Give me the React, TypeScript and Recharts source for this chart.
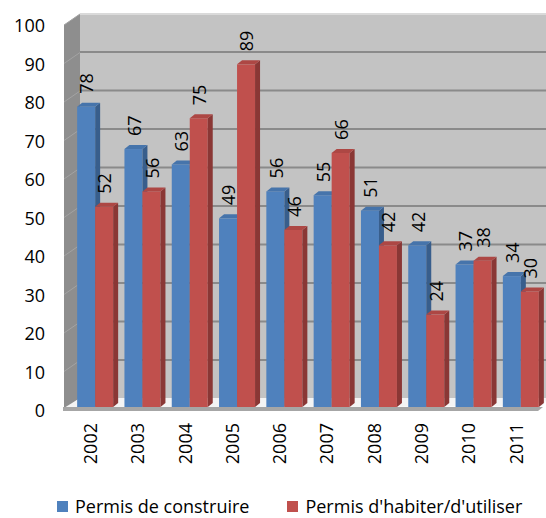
import { BarChart, Bar, XAxis, YAxis, ReferenceArea, Legend, LabelList } from 'recharts'

const years = ['2002', '2003', '2004', '2005', '2006', '2007', '2008', '2009', '2010', '2011']
const construire = [78, 67, 63, 49, 56, 55, 51, 42, 37, 34]
const habiter = [52, 56, 75, 89, 46, 66, 42, 24, 38, 30]
const yTicks = [0, 10, 20, 30, 40, 50, 60, 70, 80, 90, 100]

const data = years.map((year, i) => ({ year, construire: construire[i], habiter: habiter[i] }))

const COLORS = {
  construire: { front: '#4f81bd', side: '#385e8c', top: '#4674ab' },
  habiter: { front: '#c0504d', side: '#8a3735', top: '#ad4744' },
}

const FONT = '"Open Sans", sans-serif'

function Bar3D({ x, y, width, height, c }: any) {
  if (!height || height <= 0) return null
  const d = 5
  const up = 4
  return (
    <g>
      <rect x={x} y={y} width={width} height={height} fill={c.front} />
      <polygon points={`${x + width},${y} ${x + width + d},${y - up} ${x + width + d},${y + height - up} ${x + width},${y + height}`} fill={c.side} />
      <polygon points={`${x},${y} ${x + d},${y - up} ${x + width + d},${y - up} ${x + width},${y}`} fill={c.top} />
    </g>
  )
}

// back wall, side wall and floor drawn around the plot area
function Walls({ x, y, width, height }: any) {
  const bx = x + 9
  const by = y - 8
  const bb = y + height - 9
  const br = x + width + 4
  const lx = x - 7
  const fb = y + height
  return (
    <g>
      <rect x={bx} y={by} width={br - bx} height={bb - by} fill="#c3c3c3" />
      <line x1={bx} y1={by} x2={br} y2={by} stroke="#dadada" strokeWidth={2} />
      <polygon points={`${lx},${by + 11} ${bx},${by} ${bx},${bb} ${lx},${fb + 3}`} fill="#8e8e8e" />
      {yTicks.map((t) => {
        const gy = y + height * (1 - t / 100)
        return (
          <g key={t}>
            <line x1={lx} y1={gy + 3} x2={bx} y2={gy - 8} stroke="#a3a3a3" strokeWidth={1} />
            {t > 0 && t < 100 && <line x1={bx} y1={gy - 8.5} x2={br} y2={gy - 8.5} stroke="#8a8a8a" strokeWidth={2} />}
          </g>
        )
      })}
      <polygon points={`${lx},${fb + 1} ${bx},${bb} ${br},${bb} ${br - 6},${fb - 1}`} fill="#f4f4f4" />
      <polygon points={`${lx - 1},${fb} ${br - 5},${fb} ${br - 10},${fb + 4} ${lx - 1},${fb + 4}`} fill="#a6a6a6" />
    </g>
  )
}

function YTick({ x, y, payload }: any) {
  return (
    <text x={x} y={y + 4} dy="0.35em" textAnchor="end" fontSize={18} fill="#000" fontFamily={FONT}>
      {payload.value}
    </text>
  )
}

function XTick({ x, y, payload }: any) {
  return (
    <text transform={`translate(${x - 4},${y}) rotate(-90)`} dy="0.35em" textAnchor="end" fontSize={18} fill="#000" fontFamily={FONT}>
      {payload.value}
    </text>
  )
}

function ValueLabel({ x, y, width, value }: any) {
  return (
    <text transform={`translate(${x + width / 2 + 1},${y - 13}) rotate(-90)`} dy="0.35em" textAnchor="start" fontSize={18} fill="#000" fontFamily={FONT}>
      {value}
    </text>
  )
}

const legendItems = [
  { name: 'Permis de construire', color: COLORS.construire.front },
  { name: "Permis d'habiter/d'utiliser", color: COLORS.habiter.front },
]

function LegendContent() {
  return (
    <div style={{ display: 'flex', height: 20, lineHeight: '20px', paddingLeft: 57, gap: 38, fontFamily: FONT, fontSize: 18, color: '#000', alignItems: 'center', whiteSpace: 'nowrap' }}>
      {legendItems.map((it) => (
        <div key={it.name} style={{ display: 'flex', alignItems: 'center' }}>
          <span style={{ width: 11, height: 11, background: it.color, marginRight: 7, display: 'inline-block' }} />
          <span>{it.name}</span>
        </div>
      ))}
    </div>
  )
}

export default function App() {
  return (
    <div style={{ position: 'absolute', left: 0, top: 0, width: 546, height: 518, background: '#fff', fontFamily: FONT }}>
      <BarChart width={546} height={518} data={data} margin={{ top: 22, right: 2, left: 0, bottom: 0 }} barCategoryGap="13%" barGap={0}>
        <ReferenceArea y1={0} y2={100} ifOverflow="visible" shape={(p: any) => <Walls {...p} />} />
        <XAxis dataKey="year" axisLine={false} tickLine={false} tickSize={0} tickMargin={16} height={91} tick={<XTick />} interval={0} />
        <YAxis domain={[0, 100]} ticks={yTicks} axisLine={false} tickLine={false} tickSize={0} tickMargin={26} width={71} tick={<YTick />} />
        <Legend verticalAlign="bottom" align="left" wrapperStyle={{ left: 0, top: 496, width: 546 }} content={<LegendContent />} />
        <Bar dataKey="construire" name="Permis de construire" fill={COLORS.construire.front} isAnimationActive={false}
          shape={(p: any) => <Bar3D {...p} c={COLORS.construire} />}>
          <LabelList dataKey="construire" content={<ValueLabel />} />
        </Bar>
        <Bar dataKey="habiter" name="Permis d'habiter/d'utiliser" fill={COLORS.habiter.front} isAnimationActive={false}
          shape={(p: any) => <Bar3D {...p} c={COLORS.habiter} />}>
          <LabelList dataKey="habiter" content={<ValueLabel />} />
        </Bar>
      </BarChart>
    </div>
  )
}
